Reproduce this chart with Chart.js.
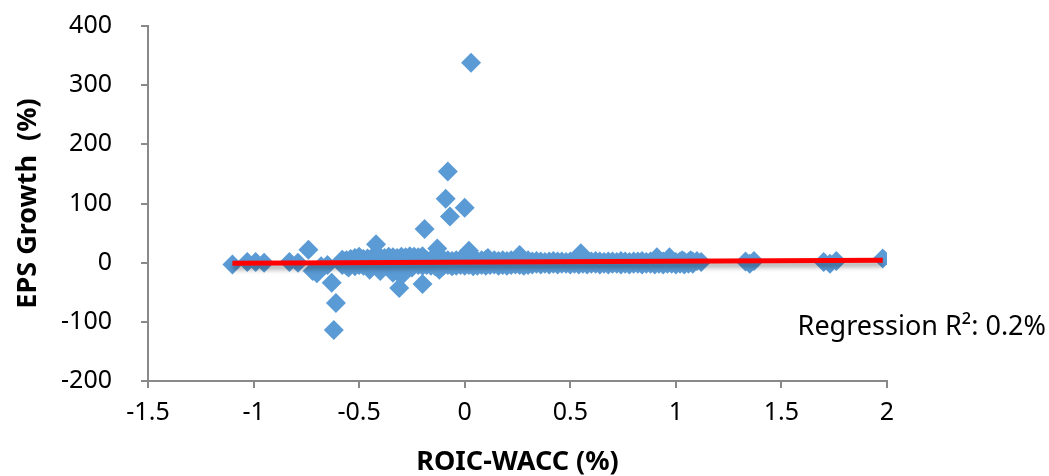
<!DOCTYPE html>
<html>
<head>
<meta charset="utf-8">
<script src="https://cdn.jsdelivr.net/npm/chart.js"></script>
<style>
  body { margin: 0; background: #fff; }
  #wrap { width: 1049px; height: 476px; }
</style>
</head>
<body>
<div id="wrap"><canvas id="roicChart"></canvas></div>
<script>
// scattered companies
const outlierX = [-1.10, -1.03, -0.99, -0.95, -0.83, -0.79, -0.74, -0.72, -0.70, -0.68, -0.65, -0.63, -0.61, -0.62,
    -0.57, -0.55, -0.52, -0.50, -0.45, -0.42, -0.40, -0.34, -0.31, -0.30, -0.25, -0.20, -0.19, -0.13, -0.12,
    -0.09, -0.08, -0.07, 0.00, 0.02, 0.03, 0.11, 0.26, 0.55, 0.91, 0.97, 1.03, 1.07, 1.10, 1.12,
    1.33, 1.35, 1.37, 1.70, 1.73, 1.76, 1.98];
const outlierY = [-3, 1, 1, 0, 1, 0, 22, -14, -18, -6, -4, -34, -68, -114,
    2, -8, 8, 10, -12, 31, -14, -17, -43, -22, -8, -36, 57, 24, -12,
    108, 154, 78, 93, 20, 338, 8, 13, 16, 9, 9, 4, 4, 3, 1,
    2, -2, 3, 1, -2, 3, 7];

// the dense band around zero
const bandX = [-0.58, -0.56, -0.54, -0.52, -0.50, -0.48, -0.46, -0.44, -0.42, -0.40, -0.38, -0.36, -0.34, -0.32,
    -0.30, -0.28, -0.26, -0.24, -0.22, -0.20, -0.18, -0.16, -0.14, -0.12, -0.10, -0.08, -0.06, -0.04, -0.02,
    0.00, 0.02, 0.04, 0.06, 0.08, 0.10, 0.12, 0.14, 0.16, 0.18, 0.20, 0.22, 0.24, 0.26, 0.28, 0.30, 0.32,
    0.34, 0.36, 0.38, 0.40, 0.42, 0.44, 0.46, 0.48, 0.50, 0.52, 0.54, 0.56, 0.58, 0.60, 0.62, 0.64, 0.66,
    0.68, 0.70, 0.72, 0.74, 0.76, 0.78, 0.80, 0.82, 0.84, 0.86, 0.88, 0.90, 0.92, 0.94, 0.96, 0.98, 1.00,
    1.02, 1.04, 1.06, 1.08];
const bandHighY = [5, 4, 6, 7, 8, 6, 7, 8, 7, 9, 8, 10, 9, 8,
    10, 9, 11, 10, 9, 11, 4, 5, 3, 4, 5, 4, 3, 4, 5,
    4, 3, 4, 3, 4, 5, 3, 4, 3, 4, 3, 4, 3, 4, 3, 4, 2,
    3, 2, 1, 2, 3, 2, 2, 1, 2, 3, 2, 1, 2, 2, 3, 2, 1,
    2, 2, 1, 3, 2, 1, 2, 2, 3, 1, 2, 2, 1, 2, 3, 2, 1,
    2, 2, 1, 2];
const bandLowY = [-4, -5, -3, -6, -4, -5, -3, -4, -6, -5, -4, -3, -5, -4,
    -6, -4, -5, -3, -4, -5, -4, -5, -6, -4, -5, -4, -6, -5, -4,
    -5, -4, -6, -5, -4, -5, -4, -3, -5, -4, -5, -4, -3, -4, -5, -4, -3,
    -2, -3, -2, -3, -2, -3, -2, -2, -3, -2, -3, -2, -3, -2, -2, -3, -2,
    -3, -2, -2, -3, -2, -3, -2, -2, -3, -2, -2, -3, -2, -3, -2, -2, -3,
    -2, -3, -2, -2];

// linear trend line
const trendX = [-1.10, 1.98];
const trendY = [-1, 4];

const xTicks = [-1.5, -1, -0.5, 0, 0.5, 1, 1.5, 2];
const yTicks = [-200, -100, 0, 100, 200, 300, 400];

const points = [];
outlierX.forEach((x, i) => points.push({ x: x, y: outlierY[i] }));
bandX.forEach((x, i) => {
    points.push({ x: x, y: bandHighY[i] });
    points.push({ x: x, y: bandLowY[i] });
});
const trend = trendX.map((x, i) => ({ x: x, y: trendY[i] }));

const FONT = '"Noto Sans", "Open Sans", sans-serif';
const axisGrey = "#898989";

// shadow under the red line, like the office chart
const lineShadow = {
    id: "lineShadow",
    beforeDatasetDraw(chart, args) {
        if (args.index !== 0) return;
        const ctx = chart.ctx;
        ctx.save();
        ctx.shadowColor = "rgba(0,0,0,0.35)";
        ctx.shadowBlur = 5;
        ctx.shadowOffsetY = 4;
    },
    afterDatasetDraw(chart, args) {
        if (args.index !== 0) return;
        chart.ctx.restore();
    }
};

const rSquared = {
    id: "rSquared",
    afterDraw(chart) {
        const ctx = chart.ctx;
        const area = chart.chartArea;
        ctx.save();
        ctx.font = "27px " + FONT;
        ctx.fillStyle = "#000";
        ctx.textAlign = "right";
        ctx.textBaseline = "middle";
        ctx.fillText("Regression R²: 0.2%", area.right + 159, area.bottom - 54);
        ctx.restore();
    }
};

new Chart(document.getElementById("roicChart"), {
    type: "scatter",
    data: {
        datasets: [{
            type: "line",
            data: trend,
            borderColor: "#FF0000",
            borderWidth: 5,
            pointRadius: 0,
            fill: false
        }, {
            data: points,
            pointStyle: "rectRot",
            pointRadius: 10,
            pointHoverRadius: 10,
            backgroundColor: "#5B9BD5",
            borderColor: "#5B9BD5",
            borderWidth: 0
        }]
    },
    options: {
        responsive: true,
        maintainAspectRatio: false,
        animation: false,
        events: [],
        layout: { padding: { top: 26, right: 162, left: 0, bottom: 0 } },
        plugins: { legend: { display: false }, tooltip: { enabled: false } },
        scales: {
            x: {
                type: "linear",
                min: -1.5,
                max: 2,
                afterBuildTicks: s => { s.ticks = xTicks.map(v => ({ value: v })); },
                afterFit: s => { s.height = 95; },
                border: { color: axisGrey, width: 2 },
                grid: { drawOnChartArea: false, color: axisGrey, lineWidth: 2, tickLength: 7 },
                ticks: { color: "#000", padding: 10, callback: v => String(v), font: { family: FONT, size: 25 } },
                title: {
                    display: true,
                    text: "ROIC-WACC (%)",
                    color: "#000",
                    padding: { top: 0, bottom: -3 },
                    font: { family: FONT, size: 27, weight: "bold" }
                }
            },
            y: {
                min: -200,
                max: 400,
                afterBuildTicks: s => { s.ticks = yTicks.map(v => ({ value: v })); },
                afterFit: s => {
                    s.width = 148;
                    // label padding should not push the plot down
                    s.paddingTop = 0;
                    s.paddingBottom = 0;
                },
                border: { color: axisGrey, width: 2 },
                grid: { drawOnChartArea: false, color: axisGrey, lineWidth: 2, tickLength: 7 },
                ticks: { color: "#000", padding: 29, callback: v => String(v), font: { family: FONT, size: 25 } },
                title: {
                    display: true,
                    text: "EPS Growth  (%)",
                    color: "#000",
                    padding: { top: 12, bottom: 0 },
                    font: { family: FONT, size: 27, weight: "bold" }
                }
            }
        }
    },
    plugins: [lineShadow, rSquared]
});
</script>
</body>
</html>
